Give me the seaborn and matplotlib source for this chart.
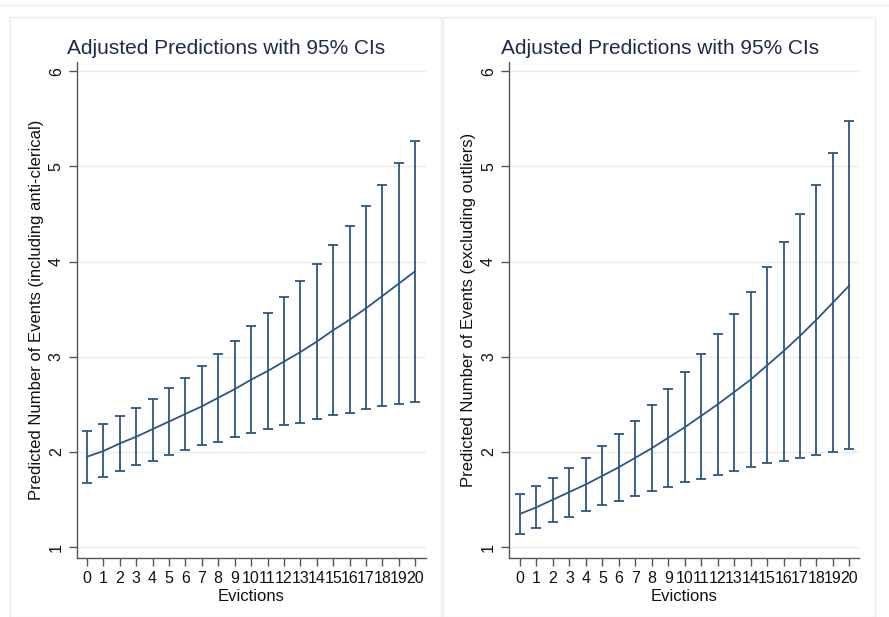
import numpy as np
import pandas as pd
import seaborn as sns
import matplotlib.pyplot as plt
from matplotlib.patches import Rectangle

# Data
evictions = list(range(21))

# Left: including anti-clerical
left_pred = [1.95, 2.01, 2.09, 2.16, 2.24, 2.32, 2.40, 2.48, 2.57, 2.66, 2.76,
             2.85, 2.95, 3.05, 3.16, 3.28, 3.39, 3.51, 3.64, 3.77, 3.90]
left_lo = [1.67, 1.74, 1.80, 1.86, 1.91, 1.97, 2.02, 2.07, 2.11, 2.16, 2.20,
           2.24, 2.28, 2.31, 2.35, 2.39, 2.41, 2.45, 2.48, 2.50, 2.53]
left_hi = [2.22, 2.29, 2.38, 2.46, 2.56, 2.67, 2.78, 2.90, 3.03, 3.17, 3.32,
           3.46, 3.63, 3.80, 3.98, 4.17, 4.37, 4.58, 4.80, 5.04, 5.27]

# Right: excluding outliers
right_pred = [1.35, 1.42, 1.50, 1.58, 1.66, 1.75, 1.84, 1.94, 2.04, 2.15, 2.26,
              2.38, 2.50, 2.63, 2.76, 2.91, 3.06, 3.22, 3.39, 3.57, 3.75]
right_lo = [1.14, 1.20, 1.26, 1.32, 1.38, 1.44, 1.49, 1.54, 1.59, 1.63, 1.68,
            1.72, 1.76, 1.80, 1.84, 1.88, 1.91, 1.94, 1.97, 2.00, 2.03]
right_hi = [1.56, 1.64, 1.73, 1.83, 1.94, 2.06, 2.19, 2.33, 2.49, 2.66, 2.84,
            3.03, 3.24, 3.45, 3.68, 3.94, 4.21, 4.50, 4.80, 5.14, 5.48]

ylabels = ['Predicted Number of Events (including anti-clerical)',
           'Predicted Number of Events (excluding outliers)']
title = 'Adjusted Predictions with 95% CIs'

sns.set_style('white')
plt.rcParams['font.family'] = ['Liberation Sans', 'DejaVu Sans']

navy = '#2c5783'
axis_col = '#555555'

fig = plt.figure(figsize=(8.89, 6.17), dpi=100)
fig.patch.set_facecolor('white')

# faint panel frames like two exported graphs side by side
fig.patches.append(Rectangle((10 / 889, 0), 431 / 889, 600 / 617, transform=fig.transFigure,
                             fill=False, edgecolor='#ebebeb', lw=1))
fig.patches.append(Rectangle((443 / 889, 0), 432 / 889, 600 / 617, transform=fig.transFigure,
                             fill=False, edgecolor='#ebebeb', lw=1))
fig.add_artist(plt.Line2D([0, 1], [612 / 617, 612 / 617], transform=fig.transFigure,
                          color='#f0f0f0', lw=1))

ax_l = fig.add_axes([77 / 889, 59.3 / 617, 349 / 889, 496 / 617])
ax_r = fig.add_axes([509.3 / 889, 59.3 / 617, 350 / 889, 496 / 617])

panels = [
    (ax_l, left_pred, left_lo, left_hi, ylabels[0], (-0.6, 20.65), 226.5),
    (ax_r, right_pred, right_lo, right_hi, ylabels[1], (-0.65, 20.6), 660),
]

for ax, pred, lo, hi, ylab, xlim, tx in panels:
    df = pd.DataFrame({'x': evictions, 'pred': pred, 'lo': lo, 'hi': hi})
    ax.set_facecolor('white')
    for v in range(1, 7):
        ax.axhline(v, color='#ececec', lw=1, zorder=0)
    ax.errorbar(df['x'], df['pred'],
                yerr=[df['pred'] - df['lo'], df['hi'] - df['pred']],
                fmt='none', ecolor=navy, elinewidth=1.3, capsize=3.5, capthick=1.3)
    sns.lineplot(data=df, x='x', y='pred', ax=ax, color=navy, lw=1.3)

    ax.set_xlim(*xlim)
    ax.set_ylim(0.89, 6.1)
    ax.set_xticks(evictions)
    ax.set_xticklabels([str(e) for e in evictions], fontsize=11.5)
    ax.set_yticks(range(1, 7))
    ax.set_yticklabels([str(v) for v in range(1, 7)], fontsize=11.5, rotation=90, va='center')
    ax.tick_params(axis='both', direction='out', length=5.5, width=1, color=axis_col,
                   labelcolor='#111111', pad=4)
    ax.tick_params(axis='y', left=True)
    ax.tick_params(axis='x', bottom=True)

    sns.despine(ax=ax, top=True, right=True)
    for s in ('left', 'bottom'):
        ax.spines[s].set_color(axis_col)
        ax.spines[s].set_linewidth(1)

    ax.set_xlabel('Evictions', fontsize=12, color='#111111')
    ax.xaxis.set_label_coords(0.5, -0.064)
    ax.set_ylabel(ylab, fontsize=12, color='#111111')
    ax.yaxis.set_label_coords(-0.095, 0.5)

    fig.text(tx / 889, 1 - 54.3 / 617, title, ha='center', va='baseline',
             fontsize=15, color='#1e2a4e')

fig.savefig('out.png', dpi=100, facecolor='white')
